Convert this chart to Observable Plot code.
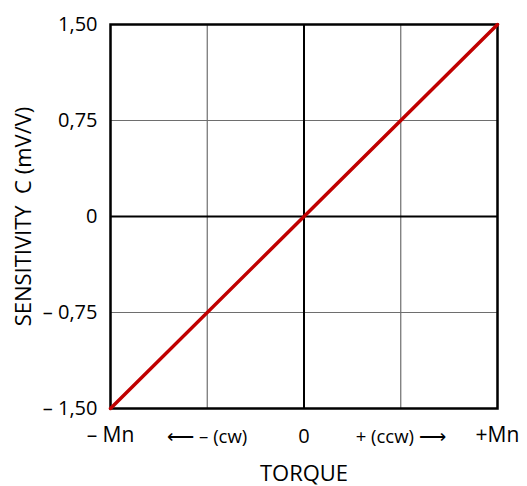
<!DOCTYPE html>
<html>
<head>
<meta charset="utf-8">
<script src="https://cdn.jsdelivr.net/npm/d3@7"></script>
<script src="https://cdn.jsdelivr.net/npm/@observablehq/plot@0.6"></script>
<style>
  html, body { margin: 0; padding: 0; background: #fff; }
</style>
</head>
<body>
<div id="chart"></div>
<script>
// Data
const torque = [-2, 2];            // -Mn ... +Mn
const sensitivity = [-1.5, 1.5];   // mV/V
const xTicks = [-2, -1, 0, 1, 2];
const xTickLabels = ["\u2013 Mn", "\u27F5 \u2013 (cw)", "0", "+ (ccw) \u27F6", "+Mn"];
const yTicks = [-1.5, -0.75, 0, 0.75, 1.5];
const yTickLabels = ["\u2013 1,50", "\u2013 0,75", "0", "0,75", "1,50"];
const xLabel = "TORQUE";
const yLabel = "SENSITIVITY\u00a0 C (mV/V)";

const rows = torque.map((t, i) => ({t, s: sensitivity[i]}));
const xFmt = d => xTickLabels[xTicks.indexOf(d)];
const outerTicks = [xTicks[0], xTicks[xTicks.length - 1]];
const sideTicks = [xTicks[1], xTicks[3]];
const midTicks = [xTicks[2]];

const chart = Plot.plot({
  width: 527,
  height: 486,
  marginLeft: 110,
  marginRight: 30,
  marginTop: 24,
  marginBottom: 78,
  style: {fontFamily: "'Open Sans', sans-serif", background: "#fff", color: "#000", overflow: "visible"},
  x: {domain: [-2, 2]},
  y: {domain: [-1.5, 1.5]},
  marks: [
    Plot.gridX(xTicks, {stroke: "#6e6e6e", strokeOpacity: 1, strokeWidth: 1.2}),
    Plot.gridY(yTicks, {stroke: "#6e6e6e", strokeOpacity: 1, strokeWidth: 1.2}),
    Plot.ruleX([0], {stroke: "#000", strokeWidth: 2}),
    Plot.ruleY([0], {stroke: "#000", strokeWidth: 2}),
    Plot.frame({stroke: "#000", strokeWidth: 2.5}),
    Plot.line(rows, {x: "t", y: "s", stroke: "#C00000", strokeWidth: 3.5, strokeLinecap: "round"}),
    Plot.axisX({ticks: outerTicks, tickFormat: xFmt, tickSize: 0, tickPadding: 19, fontSize: 21, label: null}),
    Plot.axisX({ticks: midTicks, tickFormat: xFmt, tickSize: 0, tickPadding: 20, fontSize: 20, label: null}),
    Plot.axisX({ticks: sideTicks, tickFormat: xFmt, tickSize: 0, tickPadding: 21, fontSize: 18.5, label: null}),
    Plot.axisX({ticks: [], label: xLabel, labelAnchor: "center", labelOffset: 72, labelArrow: "none", fontSize: 22}),
    Plot.axisY({ticks: yTicks, tickFormat: d => yTickLabels[yTicks.indexOf(d)], tickSize: 0, tickPadding: 13, fontSize: 20, label: null}),
    Plot.axisY({ticks: [], label: yLabel, labelAnchor: "center", labelOffset: 95, labelArrow: "none", fontSize: 22})
  ]
});
document.getElementById("chart").appendChild(chart);
</script>
</body>
</html>
